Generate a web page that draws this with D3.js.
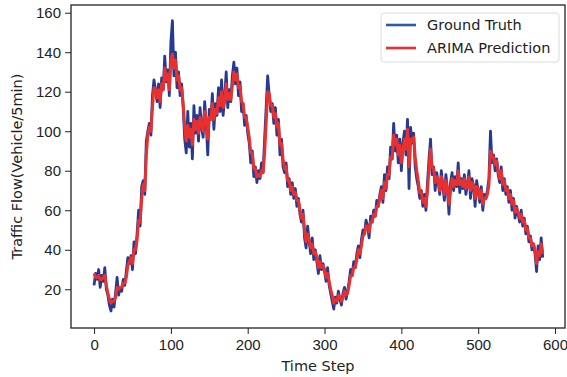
<!DOCTYPE html>
<html>
<head>
<meta charset="utf-8">
<script src="https://cdn.jsdelivr.net/npm/d3@7"></script>
<style>
  body { margin: 0; background: #fff; }
  svg { display: block; font-family: "DejaVu Sans", sans-serif; }
  .tick text { font-size: 15px; fill: #222; }
  .tick line { stroke: #222; }
</style>
</head>
<body>
<div id="chart"></div>
<script>
// time steps are sampled every 2 steps (0 .. 584)
const timeSteps = d3.range(0, 585, 2);

const groundTruth = [
  22, 28, 25, 30, 21, 27, 24, 31, 20, 17, 12,
  9, 15, 11, 18, 26, 17, 21, 19, 25, 22,
  29, 36, 33, 37, 30, 44, 38, 48, 60, 52,
  72, 75, 68, 95, 100, 104, 98, 118, 126, 121,
  115, 124, 112, 127, 121, 138, 125, 131, 118, 145,
  156, 128, 140, 122, 130, 118, 124, 112, 96, 89,
  110, 92, 104, 86, 113, 99, 108, 95, 112, 102,
  97, 115, 104, 88, 111, 106, 119, 101, 114, 108,
  122, 110, 126, 108, 117, 130, 112, 121, 115, 128,
  135, 124, 132, 118, 125, 110, 114, 103, 108, 99,
  94, 84, 90, 77, 82, 74, 80, 76, 84, 79,
  96, 112, 128, 118, 110, 114, 104, 112, 98, 106,
  88, 96, 82, 79, 84, 72, 76, 68, 74, 66,
  71, 62, 66, 58, 54, 60, 46, 41, 52, 44,
  38, 46, 35, 40, 34, 28, 37, 30, 33, 29,
  24, 31, 22, 18, 14, 10, 16, 13, 19, 15,
  12, 18, 21, 15, 19, 24, 30, 27, 34, 31,
  38, 42, 36, 45, 50, 48, 55, 52, 46, 57,
  54, 60, 57, 65, 62, 68, 72, 64, 78, 70,
  82, 76, 92, 86, 104, 90, 98, 84, 96, 80,
  94, 100, 88, 106, 71, 102, 94, 99, 82, 76,
  72, 66, 70, 62, 68, 60, 74, 86, 96, 78,
  82, 70, 79, 74, 68, 80, 72, 65, 78, 70,
  58, 74, 79, 70, 77, 72, 84, 69, 76, 71,
  78, 68, 73, 80, 66, 76, 72, 62, 75, 70,
  64, 72, 60, 68, 66, 70, 76, 100, 84, 88,
  80, 86, 78, 74, 82, 70, 76, 68, 72, 64,
  70, 60, 66, 56, 62, 58, 54, 60, 52, 56,
  48, 52, 44, 47, 40, 43, 38, 29, 42, 35,
  46, 36
];

const arimaPrediction = [
  28, 26, 26, 27, 25, 25, 26, 27, 22, 18, 15,
  13, 14, 14, 16, 21, 20, 21, 21, 23, 23,
  26, 32, 34, 36, 33, 40, 40, 45, 55, 54,
  66, 73, 70, 88, 98, 102, 100, 112, 122, 121,
  117, 121, 115, 124, 121, 132, 126, 129, 121, 136,
  139, 132, 136, 126, 128, 121, 122, 114, 102, 95,
  103, 97, 101, 93, 106, 101, 105, 99, 107, 103,
  100, 110, 106, 96, 107, 106, 114, 106, 111, 109,
  117, 113, 120, 112, 115, 124, 116, 119, 116, 123,
  130, 126, 129, 122, 123, 115, 114, 107, 107, 102,
  97, 89, 89, 81, 81, 77, 78, 77, 80, 79,
  89, 104, 120, 119, 113, 113, 107, 109, 102, 104,
  93, 94, 86, 81, 82, 75, 75, 70, 72, 68,
  69, 65, 65, 60, 56, 58, 50, 44, 48, 45,
  41, 43, 38, 39, 36, 31, 34, 31, 32, 30,
  26, 28, 24, 20, 17, 13, 15, 14, 17, 16,
  14, 16, 19, 17, 18, 22, 27, 27, 31, 31,
  35, 40, 38, 42, 47, 48, 52, 52, 49, 54,
  54, 58, 57, 62, 62, 66, 70, 66, 74, 71,
  78, 78, 87, 86, 98, 93, 96, 88, 93, 84,
  90, 96, 91, 101, 82, 96, 95, 97, 87, 80,
  75, 69, 69, 64, 66, 62, 70, 81, 91, 82,
  81, 74, 77, 75, 70, 77, 74, 68, 75, 71,
  63, 70, 76, 72, 75, 73, 80, 73, 75, 72,
  76, 71, 72, 77, 70, 74, 73, 66, 72, 71,
  66, 70, 63, 66, 66, 68, 73, 90, 87, 87,
  83, 85, 80, 76, 80, 73, 75, 70, 71, 66,
  68, 63, 65, 59, 61, 59, 56, 58, 54, 55,
  50, 51, 46, 46, 42, 43, 40, 33, 39, 37,
  43, 38
];

const xTicks = [0, 100, 200, 300, 400, 500, 600];
const yTicks = [20, 40, 60, 80, 100, 120, 140, 160];
const seriesNames = ["Ground Truth", "ARIMA Prediction"];
const seriesColors = ["#253a92", "#e8302f"];

const width = 567, height = 377;
const margin = { top: 5, right: 2, bottom: 49, left: 71 };

const svg = d3.select("#chart").append("svg")
  .attr("width", width)
  .attr("height", height);

const x = d3.scaleLinear()
  .domain([-30, 613])
  .range([margin.left, width - margin.right]);

const y = d3.scaleLinear()
  .domain([0.4, 163.9])
  .range([height - margin.bottom, margin.top]);

// lines
const line = d3.line()
  .x((d, i) => x(timeSteps[i]))
  .y(d => y(d));

svg.append("path")
  .datum(groundTruth)
  .attr("fill", "none")
  .attr("stroke", seriesColors[0])
  .attr("stroke-width", 2.8)
  .attr("stroke-linejoin", "round")
  .attr("d", line);

svg.append("path")
  .datum(arimaPrediction)
  .attr("fill", "none")
  .attr("stroke", seriesColors[1])
  .attr("stroke-width", 3)
  .attr("stroke-linejoin", "round")
  .attr("d", line);

// axes
svg.append("g")
  .attr("transform", `translate(0, ${height - margin.bottom})`)
  .call(d3.axisBottom(x).tickValues(xTicks).tickSize(6).tickPadding(5))
  .call(g => g.select(".domain").remove());

svg.append("g")
  .attr("transform", `translate(${margin.left}, 0)`)
  .call(d3.axisLeft(y).tickValues(yTicks).tickSize(6).tickPadding(4))
  .call(g => g.select(".domain").remove());

// frame
svg.append("rect")
  .attr("x", margin.left)
  .attr("y", margin.top)
  .attr("width", width - margin.left - margin.right)
  .attr("height", height - margin.top - margin.bottom)
  .attr("fill", "none")
  .attr("stroke", "#222")
  .attr("stroke-width", 1.3);

// axis labels
svg.append("text")
  .attr("x", (margin.left + width - margin.right) / 2)
  .attr("y", 371)
  .attr("text-anchor", "middle")
  .style("font-size", "14.5px")
  .style("fill", "#222")
  .text("Time Step");

svg.append("text")
  .attr("transform", `translate(22, ${(margin.top + height - margin.bottom) / 2}) rotate(-90)`)
  .attr("text-anchor", "middle")
  .style("font-size", "14.5px")
  .style("fill", "#222")
  .text("Traffic Flow(Vehicle/5min)");

// legend
const legend = svg.append("g").attr("transform", "translate(381, 13)");

legend.append("rect")
  .attr("width", 178)
  .attr("height", 49)
  .attr("rx", 3)
  .attr("fill", "#fff")
  .attr("fill-opacity", 0.8)
  .attr("stroke", "#dcdcdc");

seriesNames.forEach((name, i) => {
  const ly = 12 + i * 23;
  legend.append("line")
    .attr("x1", 5).attr("x2", 35)
    .attr("y1", ly).attr("y2", ly)
    .attr("stroke", i === 0 ? "#2a5aa8" : seriesColors[1])
    .attr("stroke-width", 2.6);
  legend.append("text")
    .attr("x", 46)
    .attr("y", ly + 5)
    .style("font-size", "14.5px")
    .style("fill", "#222")
    .text(name);
});
</script>
</body>
</html>
